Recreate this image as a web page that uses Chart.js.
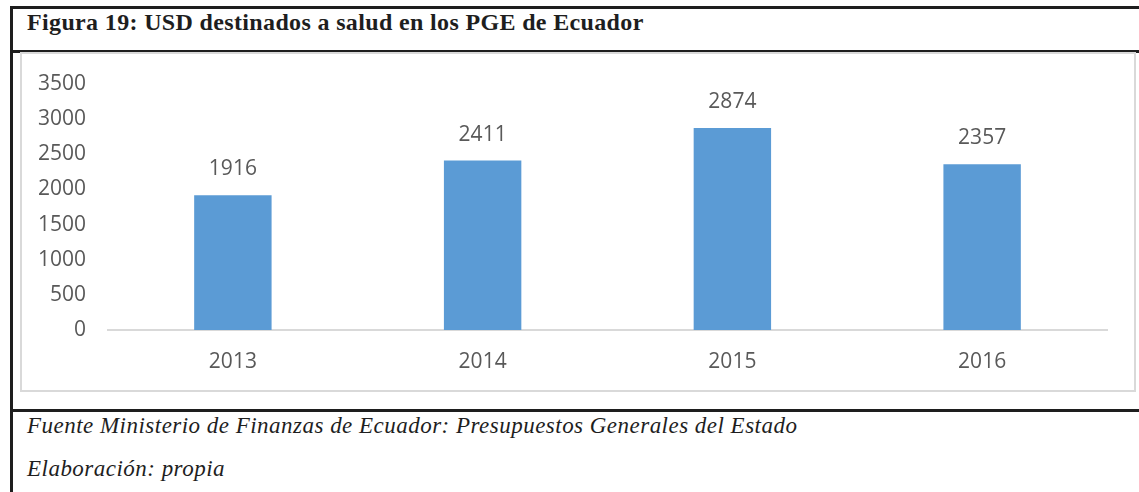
<!DOCTYPE html>
<html>
<head>
<meta charset="utf-8">
<script src="https://cdn.jsdelivr.net/npm/chart.js@4/dist/chart.umd.min.js"></script>
<style>
  html, body { margin:0; padding:0; background:#fff; width:1139px; height:492px; overflow:hidden; }
  .line { position:absolute; background:#1e1e1e; }
  #title { position:absolute; left:27px; top:10px; line-height:1; font-family:"Liberation Serif", serif; font-weight:bold; font-size:24px; letter-spacing:0.35px; color:#1e1e1e; white-space:nowrap; }
  .foot { position:absolute; left:27px; line-height:1; font-family:"Liberation Serif", serif; font-style:italic; font-size:23px; letter-spacing:0.48px; color:#1e1e1e; white-space:nowrap; }
  #frame { position:absolute; left:20px; top:52px; width:1112px; height:336px; border:2px solid #d9d9d9; background:#fff; }
  #frame canvas { display:block; }
</style>
</head>
<body>
<div class="line" style="left:11px; top:6px; width:1128px; height:3px;"></div>
<div class="line" style="left:11px; top:50px; width:1128px; height:3px;"></div>
<div class="line" style="left:11px; top:409px; width:1128px; height:3px;"></div>
<div class="line" style="left:10px; top:6px; width:3px; height:486px;"></div>
<div id="title">Figura 19: USD destinados a salud en los PGE de Ecuador</div>
<div id="frame"><canvas id="c" width="1112" height="336"></canvas></div>
<div class="foot" style="top:414px;">Fuente Ministerio de Finanzas de Ecuador: Presupuestos Generales del Estado</div>
<div class="foot" style="top:457px;">Elaboración: propia</div>
<script>
const categories = ["2013", "2014", "2015", "2016"];
const values = [1916, 2411, 2874, 2357];
const yTicks = [0, 500, 1000, 1500, 2000, 2500, 3000, 3500];

const FONT = "'Open Sans', sans-serif";
const valueLabels = {
  id: 'valueLabels',
  afterDatasetsDraw(chart) {
    const ctx = chart.ctx;
    ctx.save();
    ctx.font = "21px " + FONT;
    ctx.fillStyle = "#595959";
    ctx.textAlign = "center";
    ctx.textBaseline = "middle";
    chart.getDatasetMeta(0).data.forEach((bar, i) => {
      ctx.fillText(String(values[i]), bar.x, bar.y - 26);
    });
    ctx.restore();
  }
};

new Chart(document.getElementById('c'), {
  type: 'bar',
  data: {
    labels: categories,
    datasets: [{
      data: values,
      backgroundColor: '#5B9BD5',
      borderWidth: 0,
      categoryPercentage: 1,
      barPercentage: 0.31
    }]
  },
  options: {
    responsive: false,
    animation: false,
    events: [],
    layout: { padding: { top: 30, right: 27, bottom: 16, left: 0 } },
    plugins: { legend: { display: false }, tooltip: { enabled: false } },
    scales: {
      x: {
        afterFit(axis) { axis.height = 44; axis.paddingLeft = 0; axis.paddingRight = 0; },
        grid: { display: false, drawTicks: false },
        border: { display: true, color: '#d9d9d9', width: 2 },
        ticks: { color: '#595959', font: { family: FONT, size: 21 }, padding: 19 }
      },
      y: {
        min: 0, max: 3500,
        afterBuildTicks(axis) { axis.ticks = yTicks.map(v => ({ value: v })); },
        afterFit(axis) { axis.width = 86; axis.paddingTop = 0; axis.paddingBottom = 0; },
        grid: { display: false, drawTicks: false },
        border: { display: false },
        ticks: { color: '#595959', font: { family: FONT, size: 21 }, padding: 22, callback: (v) => String(v) }
      }
    }
  },
  plugins: [valueLabels]
});
</script>
</body>
</html>
